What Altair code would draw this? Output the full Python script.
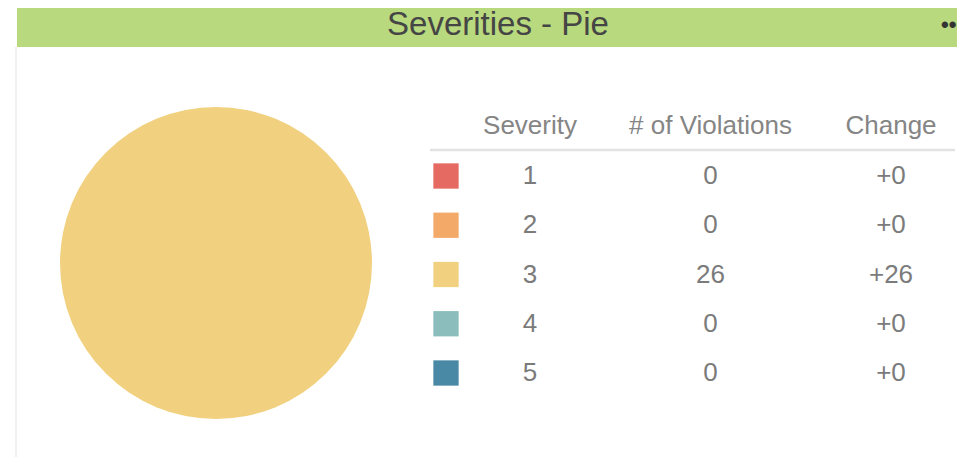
import altair as alt
import pandas as pd

# ---- data ----
severity = [1, 2, 3, 4, 5]
violations = [0, 0, 26, 0, 0]
change = [0, 0, 26, 0, 0]
colors = ["#E46A62", "#F3AA69", "#F1D17F", "#8ABDBB", "#4A89A6"]
headers = ["Severity", "# of Violations", "Change"]
title_text = "Severities - Pie"

W, H = 949, 449
FONT = "Liberation Sans"
TXT = "#7b7b7b"

pie_df = pd.DataFrame({"severity": severity, "violations": violations})
cells = []
for s, v, c in zip(severity, violations, change):
    cells.append({"severity": s, "column": headers[0], "label": str(s)})
    cells.append({"severity": s, "column": headers[1], "label": str(v)})
    cells.append({"severity": s, "column": headers[2], "label": f"+{c}"})
cell_df = pd.DataFrame(cells)
head_df = pd.DataFrame({"column": headers})
one = alt.Data(values=[{"a": 1}])

color_scale = alt.Scale(domain=severity, range=colors)
x_cols = alt.Scale(type="point", domain=headers, range=[522, 883], padding=0)
y_rows = alt.Scale(type="point", domain=severity, range=[168, 365], padding=0)

bar = alt.Chart(one).mark_rect(color="#B8D97E").encode(
    x=alt.value(9), x2=alt.value(W), y=alt.value(0), y2=alt.value(39)
)
title = alt.Chart(one).mark_text(
    text=title_text, font=FONT, fontSize=33, color="#454545", baseline="alphabetic", align="center"
).encode(x=alt.value(490), y=alt.value(27))
dots = alt.Chart(one).mark_text(
    text="•••", font=FONT, fontSize=22, fontWeight="bold", color="#333333", baseline="middle", align="left"
).encode(x=alt.value(933), y=alt.value(17))
border = alt.Chart(one).mark_rule(color="#ececec", strokeWidth=1.5).encode(
    x=alt.value(8), y=alt.value(39), y2=alt.value(H)
)

pie = alt.Chart(pie_df).mark_arc(radius=156).encode(
    theta=alt.Theta("violations:Q", stack=True),
    color=alt.Color("severity:O", scale=color_scale, legend=None),
    order=alt.Order("severity:O"),
    x=alt.value(208),
    y=alt.value(255),
)

head = alt.Chart(head_df).mark_text(
    font=FONT, fontSize=26, color="#858585", baseline="middle", align="center"
).encode(
    x=alt.X("column:N", scale=x_cols, axis=None),
    y=alt.value(118),
    text="column:N",
)
rule = alt.Chart(one).mark_rule(color="#e2e2e2", strokeWidth=2.5).encode(
    x=alt.value(422), x2=alt.value(947), y=alt.value(142)
)
swatch = alt.Chart(pie_df).mark_square(size=640, opacity=1).encode(
    x=alt.value(438),
    y=alt.Y("severity:O", scale=y_rows, axis=None),
    color=alt.Color("severity:O", scale=color_scale, legend=None),
)
cell = alt.Chart(cell_df).mark_text(
    font=FONT, fontSize=26, color=TXT, baseline="middle", align="center"
).encode(
    x=alt.X("column:N", scale=x_cols, axis=None),
    y=alt.Y("severity:O", scale=y_rows, axis=None),
    text="label:N",
)

chart = alt.layer(bar, title, dots, border, pie, head, rule, swatch, cell).properties(
    width=W, height=H, autosize=alt.AutoSizeParams(type="none"), padding=0
).configure_view(strokeWidth=0)

chart.save("out.html", embed_options={"renderer": "svg", "actions": False})
